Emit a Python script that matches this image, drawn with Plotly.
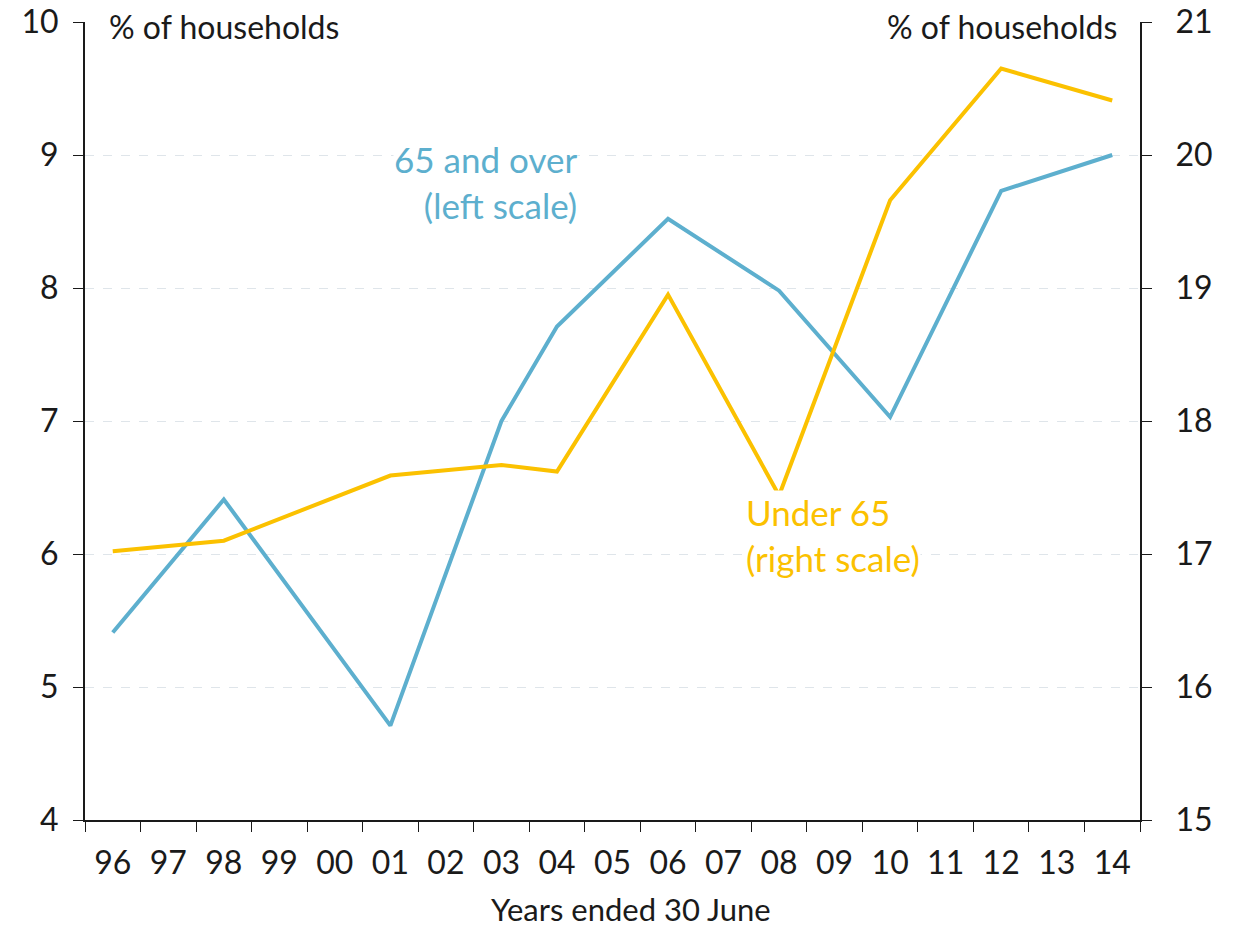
import plotly.graph_objects as go

categories = ["96", "97", "98", "99", "00", "01", "02", "03", "04", "05",
              "06", "07", "08", "09", "10", "11", "12", "13", "14"]

over65_years = ["96", "98", "01", "03", "04", "06", "08", "10", "12", "14"]
over65_values = [5.41, 6.41, 4.71, 7.00, 7.71, 8.52, 7.98, 7.03, 8.73, 9.00]

under65_years = ["96", "98", "01", "03", "04", "06", "08", "10", "12", "14"]
under65_values = [17.02, 17.10, 17.59, 17.67, 17.62, 18.95, 17.44, 19.66, 20.65, 20.41]

left_ticks = [4, 5, 6, 7, 8, 9, 10]
right_ticks = [15, 16, 17, 18, 19, 20, 21]

BLUE = "#5DAFCE"
YELLOW = "#FBC100"
INK = "#1a1a1a"
FONT = "Lato"
FS = 32

# plot area in page pixels (body margin removed below)
W, H = 1241, 927
pl, pr, pt, pb = 85, 1140, 22, 820

def px2paper(px, py):
    return (px - pl) / (pr - pl), (pb - py) / (pb - pt)

fig = go.Figure()
fig.add_trace(go.Scatter(x=over65_years, y=over65_values, mode="lines",
                         line=dict(color=BLUE, width=4), yaxis="y", showlegend=False))
fig.add_trace(go.Scatter(x=under65_years, y=under65_values, mode="lines",
                         line=dict(color=YELLOW, width=4), yaxis="y2", showlegend=False))

fig.update_layout(
    width=W, height=H,
    margin=dict(l=pl, r=W - pr, t=pt, b=H - pb),
    paper_bgcolor="white", plot_bgcolor="white",
    font=dict(family=FONT, size=FS, color=INK),
    xaxis=dict(type="category", categoryorder="array", categoryarray=categories,
               tickmode="array", tickvals=categories, ticktext=categories,
               range=[-0.5, 18.5], tickson="boundaries", ticks="outside", ticklen=10,
               tickcolor=INK, showline=True, linecolor=INK, linewidth=2,
               showgrid=False, zeroline=False, tickfont=dict(size=FS),
               ticklabelstandoff=14, automargin=False),
    yaxis=dict(range=[4, 10], tickvals=left_ticks, ticks="outside", ticklen=10,
               tickcolor=INK, showline=True, linecolor=INK, linewidth=2,
               showgrid=True, gridcolor="#dfe5ea", griddash="dash", gridwidth=1,
               zeroline=False, tickfont=dict(size=FS), ticklabelstandoff=8,
               ticklabeloverflow="allow", automargin=False),
    yaxis2=dict(range=[15, 21], tickvals=right_ticks, overlaying="y", side="right",
                ticks="outside", ticklen=10, tickcolor=INK, showline=True,
                linecolor=INK, linewidth=2, showgrid=False, zeroline=False,
                tickfont=dict(size=FS), ticklabelstandoff=17,
                ticklabeloverflow="allow", automargin=False),
)

labels = [
    # text, page px, page py, xanchor, align, color, size, bg
    ("% of households", 108, 27, "left", "left", INK, 32, "white"),
    ("% of households", 1118, 27, "right", "right", INK, 32, "white"),
    ("65 and over<br>(left scale)", 578, 182, "right", "right", BLUE, 35, "white"),
    ("Under 65<br>(right scale)", 745, 535, "left", "left", YELLOW, 35, "white"),
    ("Years ended 30 June", 631, 909, "center", "center", INK, 31, "rgba(0,0,0,0)"),
]
annotations = []
for text, px, py, xa, al, col, sz, bg in labels:
    x, y = px2paper(px, py)
    annotations.append(dict(text=text, x=x, y=y, xref="paper", yref="paper",
                            xanchor=xa, yanchor="middle", align=al, showarrow=False,
                            bgcolor=bg, borderpad=0, font=dict(size=sz, color=col)))
fig.update_layout(annotations=annotations)

fig.write_html("out.html", config={"displayModeBar": False},
               post_script="document.body.style.margin='0';document.body.style.overflow='hidden';")
